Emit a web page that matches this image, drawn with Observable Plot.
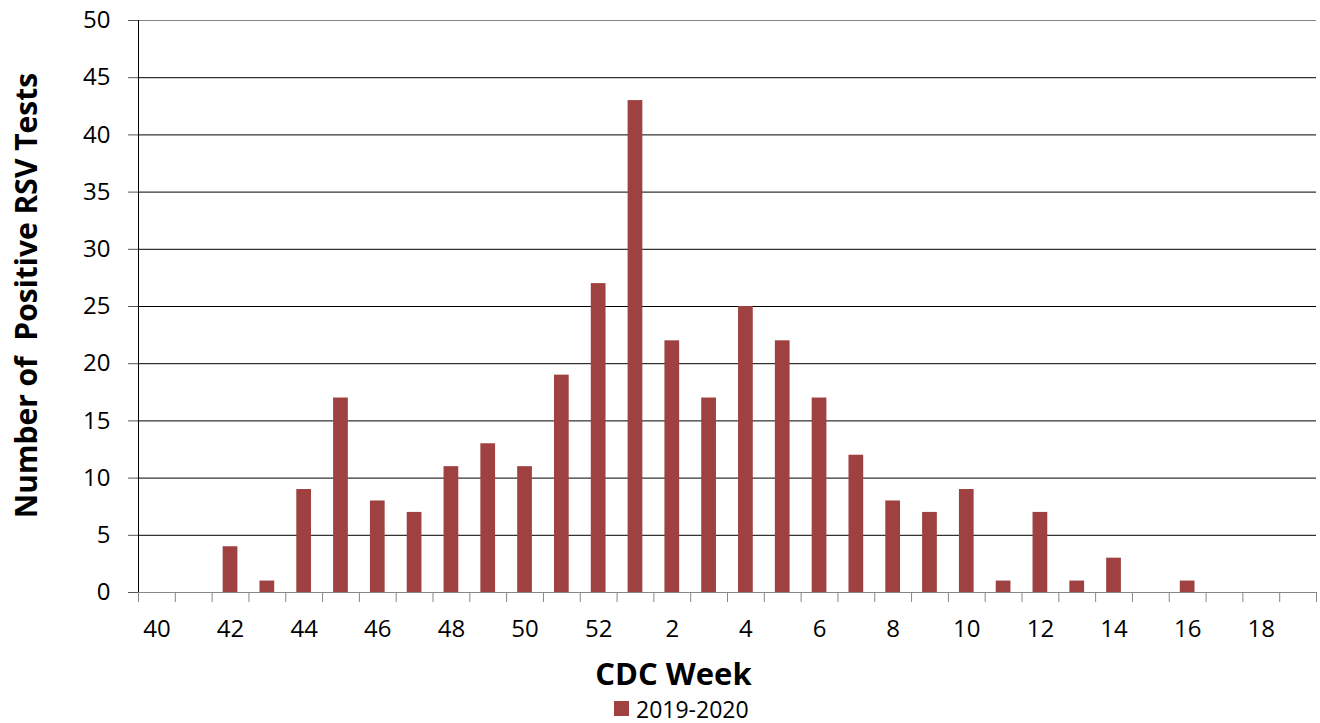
<!DOCTYPE html>
<html><head><meta charset="utf-8">
<script src="https://cdn.jsdelivr.net/npm/d3@7"></script>
<script src="https://cdn.jsdelivr.net/npm/@observablehq/plot@0.6"></script>
<style>
body{margin:0;background:#fff;font-family:"Open Sans",sans-serif;width:1320px;height:723px;overflow:hidden}
#legend{position:relative;height:28px}
#legend .sw{position:absolute;left:614px;top:6px;width:15px;height:15px;background:#9E4140}
#legend .tx{position:absolute;left:636px;top:2px;font-size:23px;color:#000;line-height:24px}
</style>
</head><body><div id="chart"></div><div id="legend"><span class="sw"></span><span class="tx" id="legtext"></span></div>
<script>
const weeks = [40,41,42,43,44,45,46,47,48,49,50,51,52,1,2,3,4,5,6,7,8,9,10,11,12,13,14,15,16,17,18,19];
const counts = [0,0,4,1,9,17,8,7,11,13,11,19,27,43,22,17,25,22,17,12,8,7,9,1,7,1,3,0,1,0,0,0];
const seriesName = "2019-2020";
const yTicks = [0,5,10,15,20,25,30,35,40,45,50];
const xLabelWeeks = [40,42,44,46,48,50,52,2,4,6,8,10,12,14,16,18];
const yTitle = "Number of  Positive RSV Tests";
const xTitle = "CDC Week";
const barColor = "#9E4140";

const data = weeks.map((w, i) => ({i, week: w, count: counts[i]}));
const labelIdx = weeks.map((w, i) => i).filter(i => xLabelWeeks.includes(weeks[i]));
const bounds = d3.range(weeks.length + 1).map(i => i - 0.5);

const chart = Plot.plot({
  width: 1320, height: 695,
  marginLeft: 138, marginRight: 4, marginTop: 20, marginBottom: 103,
  x: {domain: [-0.5, weeks.length - 0.5]},
  y: {domain: [0, 50]},
  style: {fontFamily: "Open Sans", fontSize: "24px", color: "#000", background: "#fff"},
  marks: [
    Plot.gridY(yTicks.filter(t => t > 0 && t < 50), {stroke: "#000", strokeOpacity: 1, strokeWidth: 1}),
    Plot.ruleY([50], {stroke: "#868686", strokeWidth: 1.2}),
    Plot.rectY(data, {x1: d => d.i - 0.2, x2: d => d.i + 0.2, y: "count", fill: barColor}),
    Plot.ruleX([-0.5], {y1: 0, y2: 50, stroke: "#000"}),
    Plot.ruleY([0], {stroke: "#868686", strokeWidth: 1.2}),
    Plot.axisY({ticks: yTicks, tickSize: 10, tickPadding: 18, label: null, stroke: "#555"}),
    Plot.axisX({ticks: bounds, tickSize: 10, tickFormat: () => "", label: null, stroke: "#868686"}),
    Plot.axisX({ticks: labelIdx, tickSize: 0, tickPadding: 27, tickFormat: i => String(weeks[i]), label: null}),
    Plot.text([yTitle], {frameAnchor: "left", rotate: -90, dx: -111, dy: -11, fontSize: 30, fontWeight: "bold", textAnchor: "middle"}),
    Plot.text([xTitle], {frameAnchor: "bottom", dx: -54, dy: 83, fontSize: 31, fontWeight: "bold", textAnchor: "middle", lineAnchor: "middle"})
  ]
});
document.getElementById("chart").append(chart);
document.getElementById("legtext").textContent = seriesName;
</script>
</body></html>
